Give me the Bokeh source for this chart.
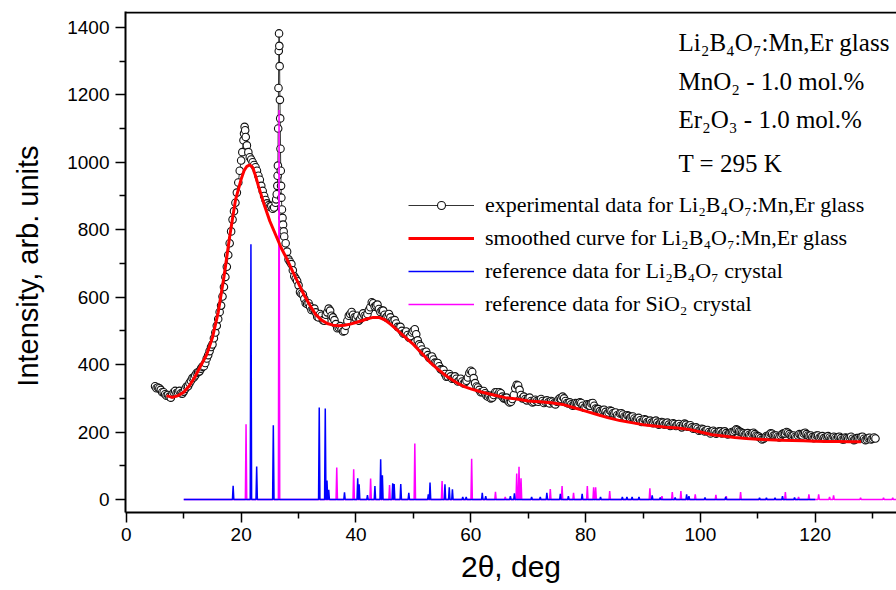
import numpy as np
from bokeh.plotting import figure
from bokeh.models import (Range1d, FixedTicker, Label, Legend, LegendItem)
from bokeh.embed import file_html
from bokeh.resources import INLINE

# ---------------- data ----------------
# experimental data (2theta, intensity), read off the picture
exp_a_x = list(np.arange(5.0, 20.01, 0.5))
exp_a_y = [336, 332, 325, 318, 308, 305, 312, 322, 318, 315,
           320, 335, 345, 360, 368, 378, 388, 395, 418, 440,
           460, 495, 535, 575, 630, 690, 760, 830, 880, 940, 1005]
exp_a2_x = list(np.arange(5.25, 19.76, 0.5))
exp_a2_y = [330, 330, 318, 312, 310, 302, 318, 316, 322, 314,
            328, 336, 352, 362, 375, 380, 394, 405, 428, 452,
            478, 515, 556, 602, 660, 725, 795, 855, 910, 975]
exp_b_x = [20.2, 20.4, 20.5, 20.6, 20.7, 20.8, 21.0, 21.25, 21.5, 21.75,
           22.0, 22.25, 22.5, 22.75, 23.0, 23.25, 23.5, 23.75, 24.0, 24.25,
           24.5, 24.75, 25.0, 25.25, 25.5, 25.75, 26.0, 26.1,
           26.2, 26.3, 26.35, 26.4, 26.45, 26.5, 26.55, 26.6, 26.65, 26.7,
           26.75, 26.8, 26.85, 26.9, 26.95, 27.0, 27.1, 27.2, 27.3, 27.4]
exp_b_y = [1030, 1065, 1085, 1105, 1095, 1075, 1050, 1030, 1015, 1008,
           1000, 992, 985, 975, 960, 948, 930, 915, 900, 888,
           878, 872, 868, 870, 862, 866, 880, 890,
           905, 930, 960, 990, 1100, 1220, 1330, 1382, 1345, 1285,
           1185, 1130, 1040, 975, 930, 895, 860, 835, 815, 795]
exp_c_x = list(np.arange(27.5, 130.51, 0.5))
exp_c_y = [780, 735, 705, 680, 655, 635, 610, 595, 580, 572,
           565, 555, 540, 545, 530, 555, 560, 540, 520, 510,
           505, 500, 530, 550, 548, 538, 530, 545, 545, 550,
           570, 582, 575, 565, 560, 548, 545, 540, 528, 522,
           510, 500, 492, 488, 485, 500, 490, 460, 445, 435,
           428, 422, 415, 405, 395, 385, 372, 365, 365, 360,
           358, 352, 350, 348, 362, 382, 360, 335, 325, 318,
           315, 305, 300, 310, 318, 318, 305, 300, 292, 290,
           310, 340, 325, 300, 298, 300, 292, 290, 292, 295,
           292, 290, 288, 292, 285, 290, 300, 305, 292, 285,
           282, 280, 285, 288, 278, 275, 280, 285, 278, 268,
           262, 265, 260, 258, 262, 255, 250, 255, 252, 245,
           248, 245, 240, 238, 235, 232, 236, 230, 228, 232,
           228, 225, 228, 226, 222, 220, 224, 222, 218, 220,
           222, 216, 214, 212, 210, 206, 208, 204, 200, 202,
           200, 198, 202, 200, 197, 195, 200, 204, 206, 200,
           196, 195, 192, 196, 194, 188, 182, 180, 188, 192,
           195, 190, 186, 190, 196, 200, 194, 188, 186, 190,
           192, 196, 194, 188, 185, 186, 190, 186, 182, 186,
           184, 180, 183, 185, 182, 178, 182, 184, 180, 178,
           182, 185, 180, 178, 183, 180, 181]
exp_c2_y = [760, 712, 698, 662, 648, 615, 608, 582, 582, 562,
            566, 542, 550, 532, 548, 566, 545, 532, 508, 514,
            498, 515, 545, 556, 540, 545, 535, 552, 542, 562,
            585, 572, 578, 556, 560, 540, 550, 530, 532, 512,
            512, 492, 498, 480, 495, 505, 472, 455, 436, 438,
            420, 424, 406, 405, 386, 384, 364, 372, 358, 365,
            350, 358, 344, 352, 375, 378, 345, 332, 318, 322,
            308, 308, 302, 318, 312, 315, 300, 302, 288, 298,
            330, 338, 310, 305, 294, 302, 288, 296, 290, 298,
            286, 294, 285, 290, 282, 296, 298, 300, 286, 288,
            278, 286, 282, 286, 272, 282, 278, 286, 270, 268,
            258, 266, 254, 264, 256, 258, 246, 256, 246, 250,
            242, 246, 236, 242, 230, 238, 230, 234, 226, 234,
            222, 230, 222, 228, 218, 226, 218, 224, 214, 225,
            216, 220, 210, 214, 204, 210, 202, 206, 196, 204,
            195, 202, 196, 202, 193, 198, 200, 208, 202, 198,
            192, 197, 190, 198, 190, 186, 178, 184, 188, 196,
            190, 190, 184, 194, 196, 198, 190, 190, 184, 194,
            190, 198, 190, 190, 182, 190, 184, 188, 180, 188,
            180, 186, 180, 186, 178, 184, 180, 186, 176, 182,
            180, 186, 176, 182, 178, 184]
exp_c2_x = [27.75 + 0.5 * i for i in range(len(exp_c2_y))]

# smoothed curve
smooth_x = [7, 8, 9, 10, 11, 12, 13, 14, 15, 16, 17, 18, 19, 20, 20.5, 21, 21.5,
            22, 22.5, 23, 24, 25, 26, 27, 28, 29, 30, 31, 32, 33, 34, 35, 36, 37,
            38, 39, 40, 41, 42, 43, 44, 45, 46, 47, 48, 49, 50, 51, 52, 53, 54,
            55, 56, 57, 58, 59, 60, 62, 64, 66, 68, 70, 72, 74, 76, 78, 80, 82,
            84, 86, 88, 90, 92, 94, 96, 98, 100, 102, 104, 106, 108, 110, 112,
            114, 116, 118, 120, 122, 124, 126, 128]
smooth_y = [308, 303, 308, 318, 338, 365, 398, 430, 480, 555, 660, 780, 887, 950,
            975, 988, 992, 985, 960, 930, 875, 825, 785, 745, 712, 675, 640, 605,
            575, 548, 532, 522, 517, 515, 517, 520, 525, 530, 536, 540, 540, 533,
            520, 505, 490, 475, 460, 442, 424, 405, 390, 376, 363, 352, 342, 334,
            328, 318, 310, 302, 298, 292, 290, 287, 282, 272, 262, 252, 242, 234,
            228, 222, 218, 214, 212, 208, 200, 192, 188, 184, 181, 179, 177, 176,
            175, 174, 173, 172, 172, 171, 171]

# reference Li2B4O7 crystal peaks
lbo_range = [10, 120]
lbo_pos = [18.6, 21.7, 22.7, 25.6, 33.6, 34.65, 34.95, 35.25, 38.0, 40.3, 40.55,
           42.0, 43.3, 44.3, 44.6, 46.4, 46.65, 47.8, 49.2, 52.6, 52.9, 55.5,
           56.25, 56.8, 58.6, 59.2, 62.0, 62.6, 66.9, 67.6, 70.6, 72.1, 73.25,
           75.6, 77.0, 79.4, 82.6, 86.4, 87.2, 88.1, 89.3, 91.6, 93.0, 95.6,
           97.6, 98.0, 100.8, 104.4, 110.3, 111.5, 113.0, 114.3, 116.4]
lbo_int = [41, 757, 98, 220, 273, 270, 56, 29, 21, 63, 45,
           13, 40, 119, 72, 48, 46, 46, 20, 15, 50, 45,
           36, 30, 8, 8, 20, 10, 10, 18, 8, 8, 20,
           17, 10, 17, 8, 8, 8, 8, 8, 12, 6, 6,
           15, 10, 6, 8, 5, 5, 5, 10, 6]

# reference SiO2 crystal peaks
sio2_range = [10, 136]
sio2_pos = [20.85, 26.6, 36.65, 39.6, 42.55, 45.85, 50.25, 55.0, 60.15, 64.3,
            66.0, 68.0, 68.4, 68.75, 73.85, 75.9, 77.9, 80.3, 81.4, 81.75,
            84.2, 91.2, 93.3, 95.1, 96.6, 99.1, 102.7, 104.5, 107.0, 114.8,
            117.1, 118.9, 120.6, 122.5, 123.2, 127.9, 131.9, 133.5]
sio2_int = [223, 1155, 95, 90, 62, 43, 166, 55, 121, 23,
            8, 77, 97, 63, 31, 40, 20, 40, 36, 36,
            25, 33, 10, 22, 25, 15, 14, 10, 22, 22,
            8, 15, 15, 8, 12, 5, 5, 5]

x_ticks = [0, 20, 40, 60, 80, 100, 120]
x_minor = [10, 30, 50, 70, 90, 110, 130]
y_ticks = [0, 200, 400, 600, 800, 1000, 1200, 1400]
y_minor = [100, 300, 500, 700, 900, 1100, 1300]

exp_x = np.array(exp_a_x + exp_a2_x + exp_b_x + exp_c_x + exp_c2_x)
exp_y = np.array(exp_a_y + exp_a2_y + exp_b_y + exp_c_y + exp_c2_y)
order = np.argsort(exp_x, kind="stable")
exp_x, exp_y = exp_x[order], exp_y[order]

PEAK_HW = 0.12


def stick_profile(rng, pos, hts, hw):
    xs, ys = [rng[0]], [0]
    for p, h in zip(pos, hts):
        xs += [p - hw, p, p + hw]
        ys += [0, h, 0]
    xs.append(rng[1])
    ys.append(0)
    return xs, ys


lbo_x, lbo_y = stick_profile(lbo_range, lbo_pos, lbo_int, PEAK_HW)
sio_x, sio_y = stick_profile(sio2_range, sio2_pos, sio2_int, PEAK_HW)

# ---------------- figure ----------------
xr = Range1d(-0.15, 134.16)
yr = Range1d(-38.5, 1447)
p = figure(width=896, height=590, output_backend="svg", toolbar_location=None,
           x_range=xr, y_range=yr,
           min_border_left=125, min_border_right=0, min_border_top=11,
           min_border_bottom=78)
p.grid.visible = False
p.background_fill_color = "white"
p.border_fill_color = "white"
p.outline_line_color = None

# top edge of the box (the right side of the box is cropped away in the original)
edge_y = yr.end - 3
p.line([xr.start, xr.end], [edge_y, edge_y], line_color="black", line_width=2)

exp_line = p.line(exp_x, exp_y, line_color="black", line_width=0.8)
exp_pts = p.scatter(exp_x, exp_y, marker="circle", size=7.5, line_color="#111111",
                    line_width=1.1, fill_color="white")
sio_r = p.line(sio_x, sio_y, line_color="#FF00FF", line_width=1.5)
lbo_r = p.line(lbo_x, lbo_y, line_color="#0000FF", line_width=1.5)
smooth_r = p.line(smooth_x, smooth_y, line_color="#FF0000", line_width=3)

xax = p.below[0]
yax = p.left[0]
for ax in (xax, yax):
    ax.axis_line_color = "black"
    ax.axis_line_width = 2
    ax.major_tick_line_color = "black"
    ax.major_tick_line_width = 1.5
    ax.minor_tick_line_color = "black"
    ax.minor_tick_line_width = 1.5
    ax.major_tick_in = 0
    ax.major_tick_out = 10
    ax.minor_tick_in = 0
    ax.minor_tick_out = 6
    ax.major_label_text_font = "Liberation Sans"
    ax.major_label_text_font_size = "19px"
    ax.major_label_text_color = "black"
    ax.axis_label_text_font = "Liberation Sans"
    ax.axis_label_text_font_style = "normal"
    ax.axis_label_text_color = "black"

xax.ticker = FixedTicker(ticks=x_ticks, minor_ticks=x_minor)
yax.ticker = FixedTicker(ticks=y_ticks, minor_ticks=y_minor)
xax.major_label_standoff = 5
yax.major_label_standoff = 6
xax.axis_label = "2\u03b8, deg"
yax.axis_label = "Intensity,  arb. units"
xax.axis_label_text_font_size = "30px"
yax.axis_label_text_font_size = "29px"
xax.axis_label_standoff = 6
yax.axis_label_standoff = 20

sub_lbo = "Li\u2082B\u2084O\u2087"
legend = Legend(items=[
    LegendItem(label="experimental data for " + sub_lbo + ":Mn,Er glass",
               renderers=[exp_line, exp_pts]),
    LegendItem(label="smoothed curve for " + sub_lbo + ":Mn,Er glass",
               renderers=[smooth_r]),
    LegendItem(label="reference data for " + sub_lbo + " crystal",
               renderers=[lbo_r]),
    LegendItem(label="reference data for SiO\u2082 crystal",
               renderers=[sio_r]),
], location=(283, 195))
legend.border_line_color = None
legend.background_fill_alpha = 0
legend.padding = 0
legend.margin = 0
legend.spacing = 7
legend.glyph_width = 66
legend.glyph_height = 20
legend.label_height = 20
legend.label_standoff = 11
legend.label_text_font = "Liberation Serif"
legend.label_text_font_size = "22px"
legend.label_text_color = "black"
p.add_layout(legend)

notes = ["Li\u2082B\u2084O\u2087:Mn,Er glass", "MnO\u2082 - 1.0 mol.%",
         "Er\u2082O\u2083 - 1.0 mol.%", "T = 295 K"]
note_y = [470, 431, 393, 349]
for t, yy in zip(notes, note_y):
    p.add_layout(Label(x=553, y=yy, x_units="screen", y_units="screen", text=t,
                       text_font="Liberation Serif", text_font_size="25px",
                       text_color="black", text_baseline="alphabetic"))

open("out.html", "w").write(file_html(p, INLINE))
